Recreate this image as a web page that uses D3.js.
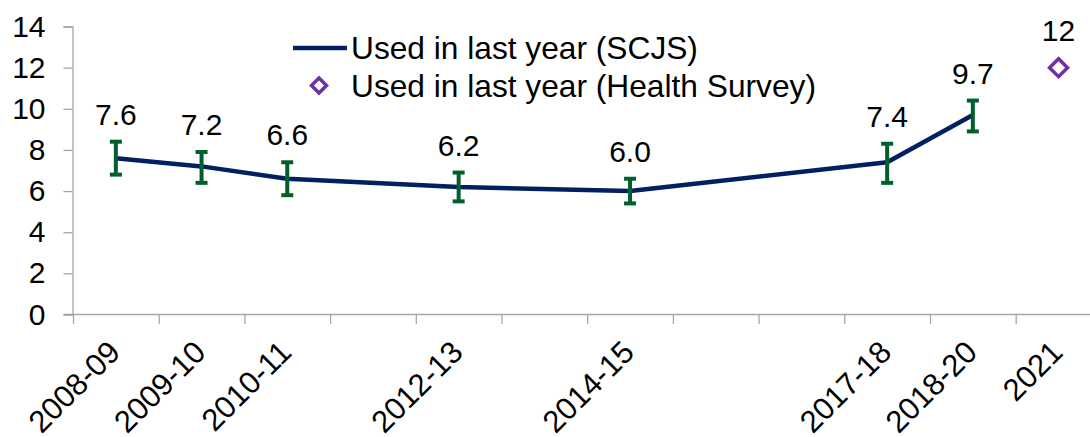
<!DOCTYPE html>
<html>
<head>
<meta charset="utf-8">
<script src="https://cdn.jsdelivr.net/npm/d3@7"></script>
<style>
  body { margin: 0; background: #fff; }
  svg { display: block; font-family: Arial, "Liberation Sans", sans-serif; }
</style>
</head>
<body>
<svg width="1090" height="437"></svg>
<script>
// categories (empty strings are the unlabelled years in between)
const categories = ['2008-09', '2009-10', '2010-11', '', '2012-13', '', '2014-15', '', '', '2017-18', '2018-20', '2021'];
const scjsValues = [7.6, 7.2, 6.6, null, 6.2, null, 6.0, null, null, 7.4, 9.7, null];
const scjsLow    = [6.8, 6.4, 5.8, null, 5.5, null, 5.4, null, null, 6.4, 8.9, null];
const scjsHigh   = [8.4, 7.9, 7.4, null, 6.9, null, 6.6, null, null, 8.3, 10.4, null];
const healthValues = [null, null, null, null, null, null, null, null, null, null, null, 12];
const yTicks = [0, 2, 4, 6, 8, 10, 12, 14];
const seriesNames = ['Used in last year (SCJS)', 'Used in last year (Health Survey)'];

const svg = d3.select('svg');

const x = d3.scaleBand()
  .domain(categories.map((c, i) => i))
  .range([73, 73 + 12 * 85.7]);
const y = d3.scaleLinear().domain([0, 14]).range([314.5, 26.5]);

const lineColor = '#002060';
const errColor = '#00602B';
const diamondColor = '#7030A0';
const axisColor = '#A6A6A6';

// y axis
const yAxis = svg.append('g').attr('transform', 'translate(72.5,0)')
  .call(d3.axisLeft(y).tickValues(yTicks).tickSize(9).tickPadding(18));
yAxis.select('.domain').attr('stroke', axisColor).attr('stroke-width', 1.3);
yAxis.selectAll('.tick line').attr('stroke', axisColor).attr('stroke-width', 1.3);
yAxis.selectAll('.tick text').attr('font-size', 30).attr('fill', '#000')
  .attr('font-family', 'Arial, "Liberation Sans", sans-serif');

// x axis line with ticks between categories
svg.append('line')
  .attr('x1', 64).attr('x2', 1090)
  .attr('y1', y(0)).attr('y2', y(0))
  .attr('stroke', axisColor).attr('stroke-width', 1.3);
svg.append('g').selectAll('line')
  .data(categories.map((c, i) => i))
  .enter().append('line')
  .attr('x1', i => x(i) + 0.5).attr('x2', i => x(i) + 0.5)
  .attr('y1', y(0)).attr('y2', y(0) + 9.5)
  .attr('stroke', axisColor).attr('stroke-width', 1.3);

svg.append('g').selectAll('text')
  .data(categories.map((c, i) => ({ c, i })).filter(d => d.c !== ''))
  .enter().append('text')
  .attr('transform', d => `translate(${x(d.i) + x.bandwidth() / 2 + 6},354) rotate(-45)`)
  .attr('text-anchor', 'end')
  .attr('font-size', 31)
  .text(d => d.c);

// SCJS line
const pts = scjsValues.map((v, i) => ({ i, v, lo: scjsLow[i], hi: scjsHigh[i] })).filter(d => d.v != null);
const cx = i => x(i) + x.bandwidth() / 2;

svg.append('path')
  .datum(pts)
  .attr('fill', 'none')
  .attr('stroke', lineColor)
  .attr('stroke-width', 4.5)
  .attr('stroke-linejoin', 'round')
  .attr('d', d3.line().x(d => cx(d.i)).y(d => y(d.v)));

// error bars
const eb = svg.append('g').selectAll('g').data(pts).enter().append('g');
eb.append('line')
  .attr('x1', d => cx(d.i)).attr('x2', d => cx(d.i))
  .attr('y1', d => y(d.lo)).attr('y2', d => y(d.hi))
  .attr('stroke', errColor).attr('stroke-width', 4);
eb.selectAll('.cap').data(d => [[d.i, d.lo], [d.i, d.hi]])
  .enter().append('line')
  .attr('x1', d => cx(d[0]) - 6).attr('x2', d => cx(d[0]) + 6)
  .attr('y1', d => y(d[1])).attr('y2', d => y(d[1]))
  .attr('stroke', errColor).attr('stroke-width', 4);

// data labels
svg.append('g').selectAll('text').data(pts).enter().append('text')
  .attr('x', d => cx(d.i))
  .attr('y', d => y(d.hi) - 17)
  .attr('text-anchor', 'middle')
  .attr('font-size', 30)
  .text(d => d.v.toFixed(1));

// health survey diamond
const hpts = healthValues.map((v, i) => ({ i, v })).filter(d => d.v != null);
const diamond = s => `M0,${-s}L${s},0L0,${s}L${-s},0Z`;
svg.append('g').selectAll('path').data(hpts).enter().append('path')
  .attr('transform', d => `translate(${cx(d.i)},${y(d.v)})`)
  .attr('d', diamond(9))
  .attr('fill', 'none').attr('stroke', diamondColor).attr('stroke-width', 3.5);
svg.append('g').selectAll('text').data(hpts).enter().append('text')
  .attr('x', d => cx(d.i))
  .attr('y', d => y(d.v) - 27)
  .attr('text-anchor', 'middle')
  .attr('font-size', 30)
  .text(d => d3.format('d')(d.v));

// legend
const lg = svg.append('g');
lg.append('line')
  .attr('x1', 293).attr('x2', 347).attr('y1', 48).attr('y2', 48)
  .attr('stroke', lineColor).attr('stroke-width', 4.5);
lg.append('text').attr('x', 351).attr('y', 59).attr('font-size', 31.7).text(seriesNames[0]);
lg.append('path').attr('transform', 'translate(319,85.5)').attr('d', diamond(7.5))
  .attr('fill', 'none').attr('stroke', diamondColor).attr('stroke-width', 3.5);
lg.append('text').attr('x', 351).attr('y', 97).attr('font-size', 31.7).text(seriesNames[1]);
</script>
</body>
</html>
